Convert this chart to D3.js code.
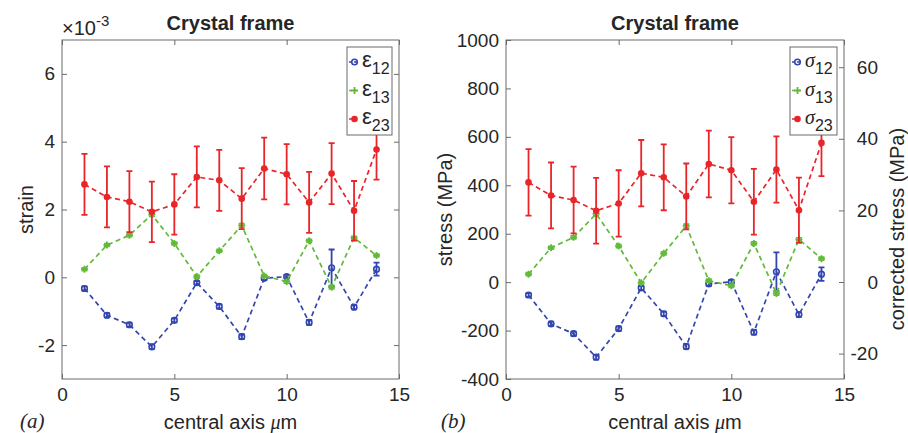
<!DOCTYPE html>
<html>
<head>
<meta charset="utf-8">
<script src="https://cdn.jsdelivr.net/npm/d3@7"></script>
<style>
  body { margin: 0; background: #fff; }
  text { font-family: "Liberation Sans", Arial, sans-serif; fill: #262626; }
</style>
</head>
<body>
<svg id="chart" width="908" height="433"></svg>
<script>
// positions along the central axis (um)
const positions = [1, 2, 3, 4, 5, 6, 7, 8, 9, 10, 11, 12, 13, 14];

// strain (x 10^-3)
const strain12 = [-0.33, -1.12, -1.40, -2.05, -1.27, -0.16, -0.86, -1.75, -0.03, 0.02, -1.33, 0.28, -0.88, 0.24];
const strain12Err = [0.06, 0.06, 0.06, 0.07, 0.06, 0.05, 0.06, 0.07, 0.05, 0.05, 0.07, 0.54, 0.06, 0.19];
const strain13 = [0.24, 0.95, 1.24, 1.85, 1.00, 0.02, 0.78, 1.53, 0.04, -0.13, 1.08, -0.29, 1.17, 0.64];
const strain13Err = [0.04, 0.04, 0.04, 0.05, 0.04, 0.04, 0.04, 0.05, 0.04, 0.04, 0.04, 0.05, 0.04, 0.04];
const strain23 = [2.74, 2.37, 2.23, 1.93, 2.15, 2.96, 2.86, 2.32, 3.21, 3.04, 2.21, 3.06, 1.96, 3.77];
const strain23Err = [0.90, 0.90, 0.90, 0.89, 0.89, 0.90, 0.90, 0.90, 0.91, 0.89, 0.90, 0.90, 0.88, 0.89];

// stress (MPa)
const stress12 = [-53, -172, -213, -310, -192, -24, -131, -266, -7, 1, -207, 43, -134, 33];
const stress12Err = [8, 9, 9, 10, 9, 8, 9, 10, 8, 8, 10, 80, 9, 28];
const stress13 = [33, 142, 185, 282, 149, -3, 119, 232, 6, -15, 160, -47, 177, 97];
const stress13Err = [6, 6, 6, 7, 6, 6, 6, 7, 6, 6, 6, 7, 6, 6];
const stress23 = [412, 358, 339, 295, 325, 450, 433, 354, 488, 462, 332, 465, 297, 575];
const stress23Err = [137, 136, 138, 136, 137, 137, 136, 136, 138, 137, 136, 137, 135, 137];

// tick labels
const xTicks = [0, 5, 10, 15];
const strainTicks = [-2, 0, 2, 4, 6];
const stressTicks = [-400, -200, 0, 200, 400, 600, 800, 1000];
const correctedTicks = [-20, 0, 20, 40, 60];

const blue = "#3346b0";
const green = "#62b93a";
const red = "#e8262a";

const svg = d3.select("#chart");

// MATLAB style marker shapes
function drawMarker(g, type, x, y, color) {
  if (type === "o") {
    g.append("circle").attr("cx", x).attr("cy", y).attr("r", 2.8)
      .attr("fill", "none").attr("stroke", color).attr("stroke-width", 1.6);
  } else if (type === "+") {
    g.append("path").attr("d", `M${x - 3.5},${y}H${x + 3.5}M${x},${y - 3.5}V${y + 3.5}`)
      .attr("stroke", color).attr("stroke-width", 1.8);
  } else {
    g.append("circle").attr("cx", x).attr("cy", y).attr("r", 3.3).attr("fill", color);
  }
}

function drawPanel(cfg) {
  const g = svg.append("g");
  const x = d3.scaleLinear().domain([0, 15]).range([cfg.left, cfg.right]);
  const y = d3.scaleLinear().domain(cfg.yDomain).range([cfg.bottom, cfg.top]);

  // axes with inward ticks
  g.append("g").attr("transform", `translate(0,${cfg.bottom})`)
    .call(d3.axisBottom(x).tickValues(xTicks).tickSize(-5).tickPadding(9));
  g.append("g").attr("transform", `translate(0,${cfg.top})`)
    .call(d3.axisTop(x).tickValues(xTicks).tickSize(-5).tickFormat(""));
  g.append("g").attr("transform", `translate(${cfg.left},0)`)
    .call(d3.axisLeft(y).tickValues(cfg.yTicks).tickSize(-5).tickPadding(7).tickFormat(d3.format("d")));

  if (cfg.rightDomain) {
    const y2 = d3.scaleLinear().domain(cfg.rightDomain).range([cfg.bottom, cfg.top]);
    const ra = g.append("g").attr("transform", `translate(${cfg.right},0)`)
      .call(d3.axisRight(y2).tickValues(correctedTicks).tickSize(-5).tickPadding(34));
    ra.selectAll("text").attr("text-anchor", "end");
  } else {
    g.append("g").attr("transform", `translate(${cfg.right},0)`)
      .call(d3.axisRight(y).tickValues(cfg.yTicks).tickSize(-5).tickFormat(""));
  }

  g.selectAll(".domain").remove();
  g.selectAll(".tick line").attr("stroke", "#6b6b6b");
  g.selectAll(".tick text").style("font-size", "19px").attr("fill", "#262626")
    .text(function () { return d3.select(this).text().replace("\u2212", "-"); });

  g.append("rect")
    .attr("x", cfg.left).attr("y", cfg.top)
    .attr("width", cfg.right - cfg.left).attr("height", cfg.bottom - cfg.top)
    .attr("fill", "none").attr("stroke", "#6b6b6b").attr("stroke-width", 1);

  // series
  const line = d3.line().x((d, i) => x(positions[i])).y(d => y(d));
  cfg.series.forEach(s => {
    g.append("path").datum(s.values).attr("d", line)
      .attr("fill", "none").attr("stroke", s.color)
      .attr("stroke-width", 1.7).attr("stroke-dasharray", "5,3.5");
    const eb = g.append("g");
    s.values.forEach((v, i) => {
      const px = x(positions[i]);
      const y0 = y(v - s.errors[i]);
      const y1 = y(v + s.errors[i]);
      eb.append("path")
        .attr("d", `M${px},${y0}V${y1}M${px - 3},${y0}H${px + 3}M${px - 3},${y1}H${px + 3}`)
        .attr("fill", "none").attr("stroke", s.color).attr("stroke-width", 1.8);
      drawMarker(eb, s.marker, px, y(v), s.color);
    });
  });

  // titles and labels
  const cx = (cfg.left + cfg.right) / 2;
  g.append("text").attr("x", cx).attr("y", 30).attr("text-anchor", "middle")
    .style("font-size", "20px").style("font-weight", "bold").attr("fill", "#000")
    .text("Crystal frame");

  const xl = g.append("text").attr("x", cx).attr("y", 429).attr("text-anchor", "middle")
    .style("font-size", "20px");
  xl.append("tspan").text("central axis ");
  xl.append("tspan").style("font-family", "'Liberation Serif', serif").style("font-style", "italic").text("\u03bc");
  xl.append("tspan").text("m");

  g.append("text")
    .attr("transform", `translate(${cfg.yLabelX},${(cfg.top + cfg.bottom) / 2}) rotate(-90)`)
    .attr("text-anchor", "middle").style("font-size", "20px").text(cfg.yLabel);

  if (cfg.rightLabel) {
    g.append("text")
      .attr("transform", `translate(${cfg.rightLabelX},229) rotate(-90)`)
      .attr("text-anchor", "middle").style("font-size", "20px").text(cfg.rightLabel);
  }

  g.append("text").attr("x", cfg.tagX).attr("y", 428)
    .style("font-family", "'Liberation Serif', serif").style("font-style", "italic")
    .style("font-size", "21px").text(cfg.tag);

  // legend
  const lg = g.append("g");
  lg.append("rect").attr("x", cfg.legend.x).attr("y", 47)
    .attr("width", cfg.legend.w).attr("height", 88)
    .attr("fill", "#fff").attr("stroke", "#6b6b6b").attr("stroke-width", 1);
  cfg.series.forEach((s, i) => {
    const ly = 62 + i * 28.5;
    const lx = cfg.legend.x + 2;
    lg.append("line").attr("x1", lx).attr("x2", lx + 10).attr("y1", ly).attr("y2", ly)
      .attr("stroke", s.color).attr("stroke-width", 1.7).attr("stroke-dasharray", "3,2");
    drawMarker(lg, s.marker, lx + 5.5, ly, s.color);
    const t = lg.append("text").attr("x", lx + 13).attr("y", ly + 5);
    if (cfg.symbolItalic) {
      t.append("tspan").style("font-family", "'Liberation Serif', serif")
        .style("font-style", "italic").style("font-size", "20px").text(cfg.symbol);
    } else {
      t.append("tspan").style("font-size", "22px").text(cfg.symbol);
    }
    t.append("tspan").attr("dy", 7).style("font-size", "16px").text(s.label);
  });
}

drawPanel({
  left: 62, right: 399, top: 40, bottom: 379,
  yDomain: [-3, 7], yTicks: strainTicks,
  yLabel: "strain", yLabelX: 33,
  tag: "(a)", tagX: 20,
  symbol: "\u03b5", symbolItalic: false,
  legend: { x: 347, w: 45 },
  series: [
    { values: strain12, errors: strain12Err, color: blue, marker: "o", label: "12" },
    { values: strain13, errors: strain13Err, color: green, marker: "+", label: "13" },
    { values: strain23, errors: strain23Err, color: red, marker: "*", label: "23" }
  ]
});

// exponent label for the strain axis
const ex = svg.append("text").attr("x", 62).attr("y", 35).attr("fill", "#444");
ex.append("tspan").style("font-size", "20px").text("\u00d710");
ex.append("tspan").attr("dy", -9).style("font-size", "15px").text("-3");

drawPanel({
  left: 506, right: 844, top: 40, bottom: 379,
  yDomain: [-400, 1000], yTicks: stressTicks,
  rightDomain: [-1000 * 0.0271, 1000 * 0.0676],
  yLabel: "stress (MPa)", yLabelX: 452,
  rightLabel: "corrected stress (MPa)", rightLabelX: 904,
  tag: "(b)", tagX: 441,
  symbol: "\u03c3", symbolItalic: true,
  legend: { x: 790, w: 47 },
  series: [
    { values: stress12, errors: stress12Err, color: blue, marker: "o", label: "12" },
    { values: stress13, errors: stress13Err, color: green, marker: "+", label: "13" },
    { values: stress23, errors: stress23Err, color: red, marker: "*", label: "23" }
  ]
});
</script>
</body>
</html>
